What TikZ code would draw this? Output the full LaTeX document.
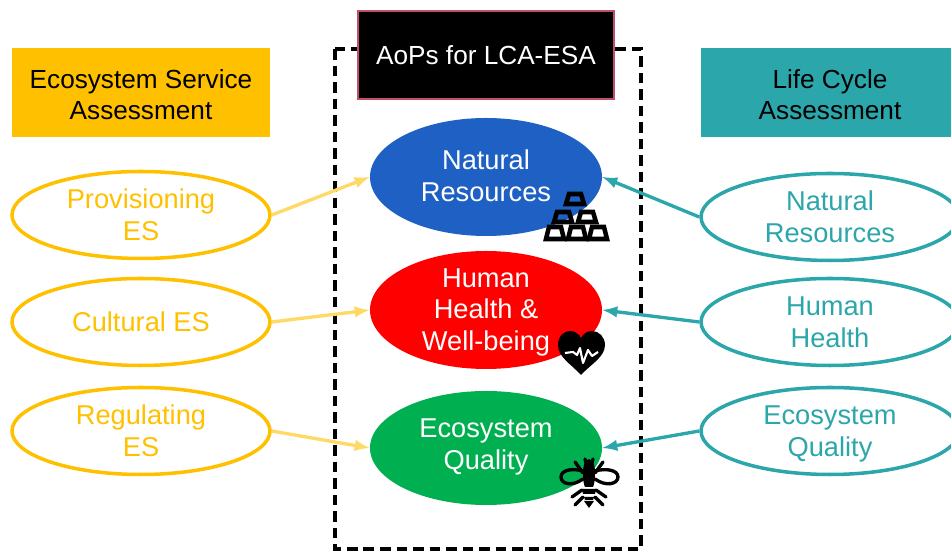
\documentclass[tikz,border=0pt]{standalone}
\usepackage{fontspec}
\setmainfont{Liberation Sans}
\usepgflibrary{shapes.geometric}
\usetikzlibrary{arrows}
\definecolor{esyellow}{HTML}{FFC000}
\definecolor{eslight}{HTML}{FFD966}
\definecolor{lcateal}{HTML}{2BA6AA}
\definecolor{aopblue}{HTML}{1F60C4}
\definecolor{aopgreen}{HTML}{00B050}
\definecolor{aoppink}{HTML}{C0506A}
\newcommand{\liftlines}[2]{\raisebox{\dimexpr#1-4.5pt\relax}[0pt][0pt]{\begin{tabular}{@{}c@{}}#2\end{tabular}}}
\tikzset{
  every node/.style={font=\fontsize{14.9}{18.1}\selectfont, align=center, inner sep=0pt},
  head/.style={draw=none, minimum width=258*0.02cm, minimum height=89*0.02cm, text=black},
  ovaltext/.style={font=\fontsize{15.5}{18.1}\selectfont},
  esoval/.style={ellipse, ovaltext, draw=esyellow, line width=2pt, text=esyellow, minimum width=258*0.02cm, minimum height=87*0.02cm},
  lcaoval/.style={ellipse, ovaltext, draw=lcateal, line width=2pt, text=lcateal, minimum width=258*0.02cm, minimum height=87*0.02cm},
  aopoval/.style={ellipse, ovaltext, text=white, minimum width=232*0.02cm, minimum height=118*0.02cm},
  esarrow/.style={-latex, draw=eslight, line width=1.9pt},
  lcaarrow/.style={-latex, draw=lcateal, line width=1.9pt},
  goldbar/.style={draw=black, line width=2.6pt, line join=miter},
  beeline/.style={draw=black, line width=1.9pt, line cap=round}
}
\begin{document}
\begin{tikzpicture}[x=0.02cm,y=-0.02cm]
\useasboundingbox (0,0) rectangle (951,553);
\draw[black, line width=2.3pt, dash pattern=on 6pt off 3.4pt] (335,49) rectangle (641,549);

\node[head, fill=esyellow] (eshead) at (141,93) {\liftlines{-1.8pt}{Ecosystem Service\\Assessment}};
\node[head, fill=lcateal] (lcahead) at (830,93) {\liftlines{-1.8pt}{Life Cycle\\Assessment}};
\node[fill=black, draw=aoppink, line width=0.8pt, text=white, minimum width=256*0.02cm, minimum height=88*0.02cm] (aophead) at (486,55) {AoPs for LCA-ESA};

\node[aopoval, fill=aopblue] (natres) at (486,177) {\liftlines{-0.4pt}{Natural\\Resources}};
\node[aopoval, fill=red] (health) at (486,310) {\liftlines{-0.6pt}{Human\\Health \&\\Well-being}};
\node[aopoval, fill=aopgreen, minimum height=114*0.02cm] (quality) at (486,448) {\liftlines{1.3pt}{Ecosystem\\Quality}};

\node[esoval] (prov) at (141,215) {\liftlines{-1pt}{Provisioning\\ES}};
\node[esoval] (cult) at (141,322) {Cultural ES};
\node[esoval] (regu) at (141,431) {\liftlines{-1pt}{Regulating\\ES}};

\node[lcaoval] (lcanat) at (830,217) {\liftlines{-1pt}{Natural\\Resources}};
\node[lcaoval] (lcahealth) at (830,322) {\liftlines{-1pt}{Human\\Health}};
\node[lcaoval] (lcaquality) at (830,431) {\liftlines{-1pt}{Ecosystem\\Quality}};

\draw[esarrow] (prov.east) -- (natres.west);
\draw[esarrow] (cult.east) -- (health.west);
\draw[esarrow] (regu.east) -- (quality.west);
\draw[lcaarrow] (lcanat.west) -- (natres.east);
\draw[lcaarrow] (lcahealth.west) -- (health.east);
\draw[lcaarrow] (lcaquality.west) -- (quality.east);

% gold bars
\foreach \xa/\ya/\ha in {575/199/5, 563/217/5, 587/217/5, 555/233/6, 577/233/6, 598/233/6}{
  \draw[goldbar] (\xa-9,\ya+\ha) -- (\xa-6,\ya-\ha) -- (\xa+6,\ya-\ha) -- (\xa+9,\ya+\ha) -- cycle;
}

% heart
\fill[black] (581,375) .. controls (571,364) and (558,357) .. (558,345)
  .. controls (558,336) and (564,331) .. (570,331)
  .. controls (575,331) and (579,334) .. (581,338)
  .. controls (583,334) and (587,331) .. (592,331)
  .. controls (599,331) and (605,337) .. (605,345)
  .. controls (605,357) and (591,364) .. (581,375) -- cycle;
\draw[white, line width=1.2pt, line join=round] (565,353) -- (573,352) -- (577,355) -- (580,348) -- (583,363) -- (588,350) -- (592,356) -- (598,352);

% bee
\fill[black] (589,459) .. controls (584,461) and (583,466) .. (583,474)
  .. controls (583,481) and (584,485) .. (585,487) -- (593,487)
  .. controls (594,485) and (595,481) .. (595,474)
  .. controls (595,466) and (594,461) .. (589,459) -- cycle;
\fill[black] (582,489) -- (596,489) -- (595,494) -- (583,494) -- cycle;
\fill[black] (584,497) -- (594,497) -- (593,500) -- (585,500) -- cycle;
\fill[black] (584,501) -- (594,501) -- (589,508) -- cycle;
\draw[beeline] (583,471) .. controls (572,468) and (561,470) .. (561,477)
  .. controls (561,484) and (572,487) .. (583,479);
\draw[beeline] (595,471) .. controls (606,468) and (618,470) .. (618,477)
  .. controls (618,484) and (606,487) .. (595,479);
\draw[beeline] (586,463) -- (585,459) (592,463) -- (593,459)
  (583,473) -- (575,462) (595,473) -- (603,462)
  (582,490) -- (572,497) (596,490) -- (606,497)
  (583,497) -- (575,505) (595,497) -- (603,505);
\end{tikzpicture}
\end{document}
